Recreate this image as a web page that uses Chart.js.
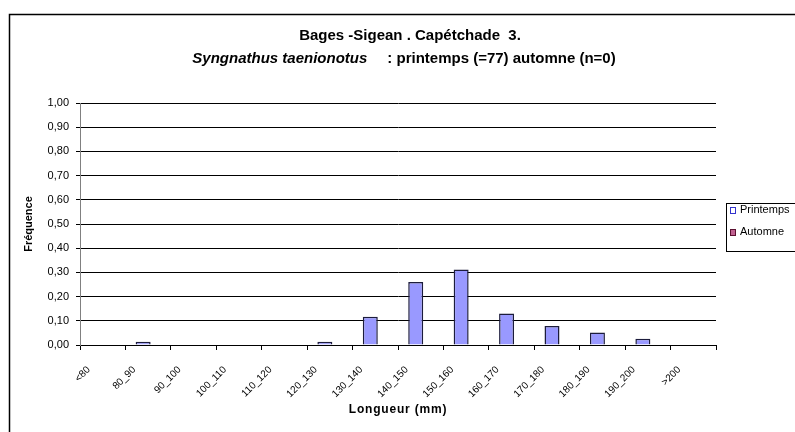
<!DOCTYPE html>
<html>
<head>
<meta charset="utf-8">
<script src="https://cdn.jsdelivr.net/npm/chart.js@4"></script>
<style>
    html, body { margin: 0; padding: 0; background: #fff; }
    #wrap { width: 795px; height: 432px; position: relative; }
</style>
</head>
<body>
<div id="wrap"><canvas id="histo" width="795" height="432"></canvas></div>
<script>
// Size classes (mm) and relative frequencies per season
const classes = ['<80', '80_90', '90_100', '100_110', '110_120', '120_130', '130_140',
    '140_150', '150_160', '160_170', '170_180', '180_190', '190_200', '>200'];
const printemps = [0, 0.013, 0, 0, 0, 0.013, 0.117, 0.26, 0.312, 0.13, 0.078, 0.052, 0.026, 0];
const automne = [0, 0, 0, 0, 0, 0, 0, 0, 0, 0, 0, 0, 0, 0];
const yTicks = [0, 0.1, 0.2, 0.3, 0.4, 0.5, 0.6, 0.7, 0.8, 0.9, 1.0];

const FONT = '"Liberation Sans", Arial, sans-serif';

// Frame, two-style title, x axis title and boxed legend drawn on the canvas
const decorations = {
    id: 'decorations',
    beforeDraw(chart) {
        const c = chart.ctx;
        c.save();
        c.strokeStyle = '#000';
        c.lineWidth = 1.5;
        c.beginPath();
        c.moveTo(9.5, 440);
        c.lineTo(9.5, 14.5);
        c.lineTo(800, 14.5);
        c.stroke();
        c.restore();
    },
    afterDraw(chart) {
        const c = chart.ctx;
        const area = chart.chartArea;
        c.save();
        c.fillStyle = '#000';
        c.textBaseline = 'middle';

        // title line 1
        c.font = 'bold 15px ' + FONT;
        c.textAlign = 'center';
        c.fillText('Bages -Sigean . Capétchade  3.', 410, 36);

        // title line 2: italic species name + bold rest
        const part1 = 'Syngnathus taenionotus';
        const part2 = ': printemps (=77) automne (n=0)';
        const gap = 20;
        c.textAlign = 'left';
        c.font = 'italic bold 15px ' + FONT;
        const w1 = c.measureText(part1).width;
        c.font = 'bold 15px ' + FONT;
        const w2 = c.measureText(part2).width;
        const x = 404 - (w1 + gap + w2) / 2;
        c.font = 'italic bold 15px ' + FONT;
        c.fillText(part1, x, 59);
        c.font = 'bold 15px ' + FONT;
        c.fillText(part2, x + w1 + gap, 59);

        // x axis title, slightly spaced letters
        c.font = 'bold 12px ' + FONT;
        c.textAlign = 'center';
        c.letterSpacing = '0.8px';
        c.fillText('Longueur (mm)', (area.left + area.right) / 2, 410);
        c.letterSpacing = '0px';

        // legend
        c.textAlign = 'left';
        c.strokeStyle = '#000';
        c.lineWidth = 1;
        c.strokeRect(726.5, 203.5, 80, 48);
        c.font = '11px ' + FONT;
        const rows = [210, 232];
        chart.data.datasets.forEach((ds, i) => {
            const y = rows[i];
            c.fillStyle = ds.legendFill;
            c.fillRect(730, y - 2.5, 5, 6);
            c.strokeStyle = ds.legendBorder;
            c.strokeRect(730.5, y - 2.5, 5, 6);
            c.fillStyle = '#000';
            c.fillText(ds.label, 740, y);
        });
        c.restore();
    }
};

const ctx = document.getElementById('histo').getContext('2d');
const histo = new Chart(ctx, {
    type: 'bar',
    data: {
        labels: classes,
        datasets: [
            {
                label: 'Printemps',
                data: printemps,
                backgroundColor: '#9999ff',
                borderColor: '#1c1c3c',
                borderWidth: 1.5,
                legendFill: '#ffffff',
                legendBorder: '#3333cc'
            },
            {
                label: 'Automne',
                data: automne,
                backgroundColor: '#993366',
                borderColor: '#1c1c3c',
                borderWidth: 1.5,
                legendFill: '#c06090',
                legendBorder: '#5a1030'
            }
        ]
    },
    options: {
        responsive: false,
        animation: false,
        devicePixelRatio: 1,
        categoryPercentage: 0.44,
        barPercentage: 1.5,
        layout: { padding: { left: 0, right: 79, top: 103, bottom: 0 } },
        plugins: {
            legend: { display: false },
            title: { display: false },
            tooltip: { enabled: false }
        },
        scales: {
            x: {
                grid: {
                    offset: true,
                    drawOnChartArea: false,
                    color: '#000',
                    tickLength: 5
                },
                border: { color: '#000', width: 1 },
                ticks: {
                    minRotation: 45,
                    maxRotation: 45,
                    autoSkip: false,
                    padding: 14,
                    labelOffset: -14,
                    color: '#000',
                    font: { family: FONT, size: 10 }
                },
                afterFit(scale) { scale.height = 87; }
            },
            y: {
                min: 0,
                max: 1,
                afterBuildTicks(scale) {
                    scale.ticks = yTicks.map(v => ({ value: v }));
                },
                grid: {
                    color: '#000',
                    tickLength: 4
                },
                border: { color: '#808080', width: 1 },
                ticks: {
                    padding: 7,
                    color: '#000',
                    font: { family: FONT, size: 11 },
                    callback: v => v.toFixed(2).replace('.', ',')
                },
                title: {
                    display: true,
                    text: 'Fréquence',
                    color: '#000',
                    font: { family: FONT, size: 11, weight: 'bold' },
                    padding: { top: 22, bottom: 0 }
                },
                afterFit(scale) { scale.width = 80; }
            }
        }
    },
    plugins: [decorations]
});
</script>
</body>
</html>
